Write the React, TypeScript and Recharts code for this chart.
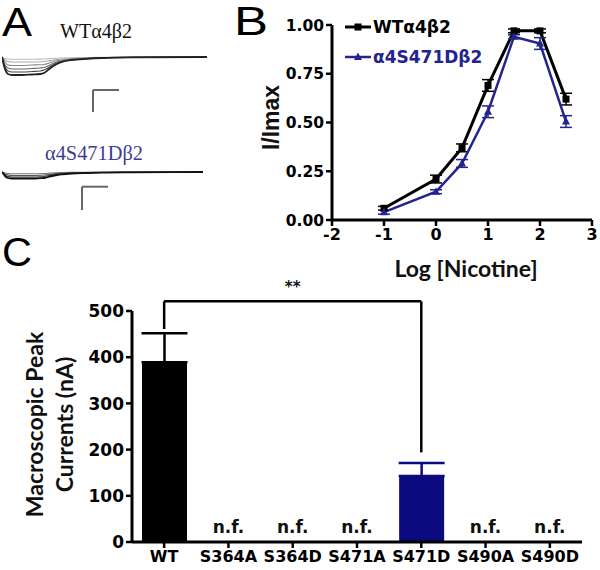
import React from 'react';
import {
    LineChart, Line, BarChart, Bar, XAxis, YAxis, ErrorBar, Legend, ReferenceLine, ReferenceDot,
} from 'recharts';

const BLUE = '#24248f';
const NAVY = '#0b0b7f';
const TICK_FONT = '"DejaVu Sans", sans-serif';
const LABEL_FONT = 'Lato, "Open Sans", sans-serif';

// Panel A: current traces (time in px-ish units, current in arbitrary units)
const wtTimes = [0, 3, 6, 10, 20, 30, 38, 42, 46, 50, 55, 60, 70, 85, 100, 130, 205];
const wtTraces = [
    [0, -12, -17, -18, -18, -17.5, -17, -16, -13, -10, -7, -5, -3, -1.8, -1, -0.4, 0],
    [0, -10, -14, -15, -15, -14.5, -14, -13, -11, -8.5, -6, -4.5, -2.7, -1.6, -0.9, -0.4, 0],
    [0, -8, -11, -12, -12, -11.5, -11, -10.5, -9, -7, -5, -3.8, -2.3, -1.4, -0.8, -0.3, 0],
    [0, -5, -8, -8.5, -8.5, -8, -7.8, -7.5, -6.5, -5, -3.8, -3, -2, -1.2, -0.7, -0.3, 0],
    [0, -3, -4.5, -5, -5, -5, -4.8, -4.5, -4, -3.3, -2.6, -2, -1.4, -0.9, -0.5, -0.2, 0],
    [0, -1.5, -2, -2.2, -2.2, -2.2, -2.1, -2, -1.8, -1.5, -1.2, -1, -0.7, -0.5, -0.3, -0.1, 0],
];
const wtTraceColors = ['#222', '#444', '#666', '#888', '#aaa', '#bbb'];

const mutTimes = [0, 3, 6, 10, 20, 30, 38, 42, 46, 50, 55, 60, 70, 85, 100, 130, 201];
const mutTraces = [
    [0, -4, -6, -6.5, -6.5, -6.5, -6.2, -6, -5, -4, -3, -2.3, -1.5, -1, -0.6, -0.3, 0],
    [0, -3, -4.5, -5, -5, -5, -4.8, -4.5, -3.8, -3, -2.3, -1.8, -1.2, -0.8, -0.5, -0.2, 0],
    [0, -2, -3, -3.5, -3.5, -3.5, -3.3, -3, -2.6, -2.1, -1.6, -1.2, -0.8, -0.5, -0.3, -0.1, 0],
    [0, -1, -1.5, -1.8, -1.8, -1.8, -1.7, -1.5, -1.3, -1, -0.8, -0.6, -0.4, -0.3, -0.2, -0.1, 0],
];
const mutTraceColors = ['#111', '#333', '#555', '#777'];

// Panel B: concentration-response
const logNicotine = [-1, 0, 0.5, 1, 1.5, 2, 2.5];
const wtResponse = [0.06, 0.21, 0.37, 0.69, 0.97, 0.97, 0.62];
const wtSem = [0.01, 0.02, 0.02, 0.03, 0.01, 0.01, 0.03];
const mutResponse = [0.04, 0.145, 0.29, 0.555, 0.94, 0.905, 0.505];
const mutSem = [0.01, 0.01, 0.02, 0.03, 0.01, 0.03, 0.03];
const doseTicksX = [-2, -1, 0, 1, 2, 3];
const doseTicksY = [0, 0.25, 0.5, 0.75, 1];

// Panel C: peak currents
const mutants = ['WT', 'S364A', 'S364D', 'S471A', 'S471D', 'S490A', 'S490D'];
const peakCurrent = [389, 0, 0, 0, 143, 0, 0];
const peakSem = [63, 0, 0, 0, 28, 0, 0];
const barGroup = ['wt', 'nf', 'nf', 'nf', 'mut', 'nf', 'nf'];
const currentTicks = [0, 100, 200, 300, 400, 500];
const bracketY = 521;
const bracketDrops = [461, 194];

const doseData = logNicotine.map((x, i) => ({
    x,
    wt: wtResponse[i],
    wtErr: wtSem[i],
    mut: mutResponse[i],
    mutErr: mutSem[i],
}));

const peakData = mutants.map((name, i) => ({
    name,
    wt: barGroup[i] === 'wt' ? peakCurrent[i] : null,
    wtErr: barGroup[i] === 'wt' ? [0, peakSem[i]] : null,
    mut: barGroup[i] === 'mut' ? peakCurrent[i] : null,
    mutErr: barGroup[i] === 'mut' ? [0, peakSem[i]] : null,
}));
const nfMutants = mutants.filter((_, i) => barGroup[i] === 'nf');

const boldText = { fontFamily: TICK_FONT, fontWeight: 700 };

// tick renderers so the labels really come out bold
const xTick = (size: number) => ({ x, y, payload }: any) => (
    <text x={x} y={y} dy="0.72em" textAnchor="middle" fontSize={size} fill="#000" style={boldText}>
        {payload.value}
    </text>
);
const yTick = (size: number, fmt: (v: number) => string) => ({ x, y, payload }: any) => (
    <text x={x} y={y} dy="0.36em" textAnchor="end" fontSize={size} fill="#000" style={boldText}>
        {fmt(payload.value)}
    </text>
);

const SquareDot = (props: any) => {
    const { cx, cy, index } = props;
    if (cx == null || cy == null) return null;
    return <rect key={index} x={cx - 3.5} y={cy - 3.5} width={7} height={7} fill="#000" />;
};

const TriangleDot = (props: any) => {
    const { cx, cy, index } = props;
    if (cx == null || cy == null) return null;
    return <polygon key={index} points={`${cx},${cy - 4.5} ${cx - 4},${cy + 3} ${cx + 4},${cy + 3}`} fill={BLUE} />;
};

const DoseLegend = () => (
    <div style={{ fontFamily: TICK_FONT, fontWeight: 700, fontSize: 17, lineHeight: '30px' }}>
        <div style={{ display: 'flex', alignItems: 'center', color: '#000' }}>
            <svg width={28} height={14}>
                <line x1={0} y1={7} x2={26} y2={7} stroke="#000" strokeWidth={3} />
                <rect x={9.5} y={3.5} width={7} height={7} fill="#000" />
            </svg>
            <span>WTα4β2</span>
        </div>
        <div style={{ display: 'flex', alignItems: 'center', color: BLUE }}>
            <svg width={28} height={14}>
                <line x1={0} y1={7} x2={26} y2={7} stroke={BLUE} strokeWidth={2.5} />
                <polygon points="13,2.5 9,10 17,10" fill={BLUE} />
            </svg>
            <span>α4S471Dβ2</span>
        </div>
    </div>
);

const NfLabel = ({ viewBox }: any) => (
    <text x={viewBox.x + (viewBox.width || 0) / 2} y={viewBox.y - 9} textAnchor="middle"
        fontSize={17} fill="#111" style={boldText}>n.f.</text>
);

function TraceChart({ times, traces, colors, left, top, width, height, yDomain, scaleBar }: any) {
    const data = times.map((t: number, i: number) => {
        const row: any = { t };
        traces.forEach((tr: number[], k: number) => { row['s' + k] = tr[i]; });
        return row;
    });
    const order = traces.map((_: any, k: number) => k).reverse();
    return (
        <div style={{ position: 'absolute', left, top }}>
            <LineChart width={width} height={height} data={data} margin={{ top: 0, right: 0, bottom: 0, left: 0 }}>
                <XAxis type="number" dataKey="t" domain={[0, width]} allowDataOverflow hide />
                <YAxis type="number" domain={yDomain} allowDataOverflow hide />
                {order.map((k: number) => (
                    <Line key={k} type="monotone" dataKey={'s' + k} stroke={colors[k]} strokeWidth={k === 0 ? 1.8 : 1.1}
                        dot={false} isAnimationActive={false} />
                ))}
                <ReferenceLine ifOverflow="visible" stroke="#666" strokeWidth={2}
                    segment={[{ x: scaleBar.x, y: scaleBar.top }, { x: scaleBar.x, y: scaleBar.bottom }]} />
                <ReferenceLine ifOverflow="visible" stroke="#666" strokeWidth={2}
                    segment={[{ x: scaleBar.x, y: scaleBar.top }, { x: scaleBar.x + scaleBar.len, y: scaleBar.top }]} />
            </LineChart>
        </div>
    );
}

export default function App() {
    return (
        <div style={{ position: 'relative', width: 600, height: 570, background: '#fff', overflow: 'hidden' }}>
            <style>{'body{margin:0}'}</style>

            {/* Panel A */}
            <TraceChart times={wtTimes} traces={wtTraces} colors={wtTraceColors} left={2} top={50} width={205} height={65}
                yDomain={[-58, 7]} scaleBar={{ x: 91, top: -33, bottom: -55, len: 26 }} />
            <TraceChart times={mutTimes} traces={mutTraces} colors={mutTraceColors} left={2} top={165} width={201} height={50}
                yDomain={[-43, 7]} scaleBar={{ x: 80, top: -14.7, bottom: -38, len: 26 }} />

            {/* Panel B */}
            <div style={{ position: 'absolute', left: 230, top: 0 }}>
                <LineChart width={370} height={290} data={doseData} margin={{ top: 25, right: 8, bottom: 0, left: 42 }}>
                    <XAxis type="number" dataKey="x" domain={[-2, 3]} ticks={doseTicksX} allowDataOverflow height={70}
                        axisLine={{ stroke: '#000', strokeWidth: 3 }} tickLine={{ stroke: '#000', strokeWidth: 2.5 }} tickSize={6}
                        tick={xTick(16)}
                        label={{
                            content: ({ viewBox }: any) => (
                                <text x={viewBox.x + viewBox.width / 2 + 4} y={268} textAnchor="middle" dominantBaseline="central"
                                    fontFamily={LABEL_FONT} fontWeight={700} fontSize={23} fill="#111">Log [Nicotine]</text>
                            ),
                        }} />
                    <YAxis type="number" domain={[0, 1]} ticks={doseTicksY} allowDataOverflow width={60}
                        axisLine={{ stroke: '#000', strokeWidth: 3 }} tickLine={{ stroke: '#000', strokeWidth: 2.5 }} tickSize={6}
                        tick={yTick(15.5, (v) => v.toFixed(2))}
                        label={{
                            content: ({ viewBox }: any) => (
                                <text transform={`translate(${viewBox.x - 1}, ${viewBox.y + viewBox.height / 2 - 5}) rotate(-90)`}
                                    textAnchor="middle" dominantBaseline="central"
                                    fontFamily='"Liberation Sans", Arial, sans-serif' fontWeight={700} fontSize={23} fill="#111">I/Imax</text>
                            ),
                        }} />
                    <Legend layout="vertical" align="center" verticalAlign="middle" content={<DoseLegend />}
                        wrapperStyle={{ left: 115, top: 12, width: 'auto' }} />
                    <Line dataKey="wt" stroke="#000" strokeWidth={3} dot={<SquareDot />} isAnimationActive={false}>
                        <ErrorBar dataKey="wtErr" direction="y" width={6} stroke="#000" strokeWidth={1.5} />
                    </Line>
                    <Line dataKey="mut" stroke={BLUE} strokeWidth={2.5} dot={<TriangleDot />} isAnimationActive={false}>
                        <ErrorBar dataKey="mutErr" direction="y" width={6} stroke={BLUE} strokeWidth={1.5} />
                    </Line>
                </LineChart>
            </div>

            {/* Panel C */}
            <div style={{ position: 'absolute', left: 0, top: 270 }}>
                <BarChart width={600} height={300} data={peakData} margin={{ top: 41, right: 18, bottom: 0, left: 0 }}
                    barSize={45} barGap={-45} barCategoryGap={0}>
                    <XAxis dataKey="name" interval={0} height={28}
                        axisLine={{ stroke: '#000', strokeWidth: 3 }} tickLine={{ stroke: '#000', strokeWidth: 2.5 }} tickSize={6}
                        tick={xTick(16)} />
                    <YAxis type="number" domain={[0, 500]} ticks={currentTicks} allowDataOverflow width={132}
                        axisLine={{ stroke: '#000', strokeWidth: 3 }} tickLine={{ stroke: '#000', strokeWidth: 2.5 }} tickSize={6}
                        tick={yTick(17, (v) => String(v))}
                        label={{
                            content: ({ viewBox }: any) => {
                                const cy = viewBox.y + viewBox.height / 2 - 2;
                                return (
                                    <g fontFamily={LABEL_FONT} fontWeight={700} fontSize={23} fill="#111">
                                        <text transform={`translate(34, ${cy}) rotate(-90)`} textAnchor="middle" dominantBaseline="central">Macroscopic Peak</text>
                                        <text transform={`translate(64, ${cy}) rotate(-90)`} textAnchor="middle" dominantBaseline="central">Currents (nA)</text>
                                    </g>
                                );
                            },
                        }} />
                    <Bar dataKey="wt" fill="#000" isAnimationActive={false}>
                        <ErrorBar dataKey="wtErr" direction="y" width={23} stroke="#000" strokeWidth={2.5} />
                    </Bar>
                    <Bar dataKey="mut" fill={NAVY} isAnimationActive={false}>
                        <ErrorBar dataKey="mutErr" direction="y" width={23} stroke={NAVY} strokeWidth={2.5} />
                    </Bar>
                    {nfMutants.map((name) => (
                        <ReferenceDot key={name} x={name} y={0} r={0} fill="none" stroke="none" ifOverflow="visible"
                            label={{ content: NfLabel }} />
                    ))}
                    <ReferenceLine ifOverflow="visible" stroke="#000" strokeWidth={2.5}
                        segment={[{ x: 'WT', y: bracketY }, { x: 'S471D', y: bracketY }]}
                        label={{
                            content: ({ viewBox }: any) => (
                                <text x={viewBox.x + viewBox.width / 2} y={viewBox.y - 9} textAnchor="middle"
                                    fontSize={15} fill="#111" style={boldText}>**</text>
                            ),
                        }} />
                    <ReferenceLine ifOverflow="visible" stroke="#000" strokeWidth={2.5}
                        segment={[{ x: 'WT', y: bracketY }, { x: 'WT', y: bracketDrops[0] }]} />
                    <ReferenceLine ifOverflow="visible" stroke="#000" strokeWidth={2.5}
                        segment={[{ x: 'S471D', y: bracketY }, { x: 'S471D', y: bracketDrops[1] }]} />
                </BarChart>
            </div>

            {/* Panel letters and trace labels */}
            <svg width={600} height={570} style={{ position: 'absolute', left: 0, top: 0, pointerEvents: 'none' }}>
                <g fontFamily='"Liberation Sans", Arial, sans-serif' fontSize={40} fill="#000">
                    <text x={2} y={36} textLength={30} lengthAdjust="spacingAndGlyphs">A</text>
                    <text x={234} y={35} textLength={34} lengthAdjust="spacingAndGlyphs">B</text>
                    <text x={2} y={266} textLength={30} lengthAdjust="spacingAndGlyphs">C</text>
                </g>
                <g fontFamily='"Liberation Serif", "DejaVu Serif", serif' fontSize={20}>
                    <text x={60} y={38} fill="#111" textLength={72} lengthAdjust="spacingAndGlyphs">WTα4β2</text>
                    <text x={45} y={160} fill="#3d3d8f" textLength={98} lengthAdjust="spacingAndGlyphs">α4S471Dβ2</text>
                </g>
            </svg>
        </div>
    );
}
